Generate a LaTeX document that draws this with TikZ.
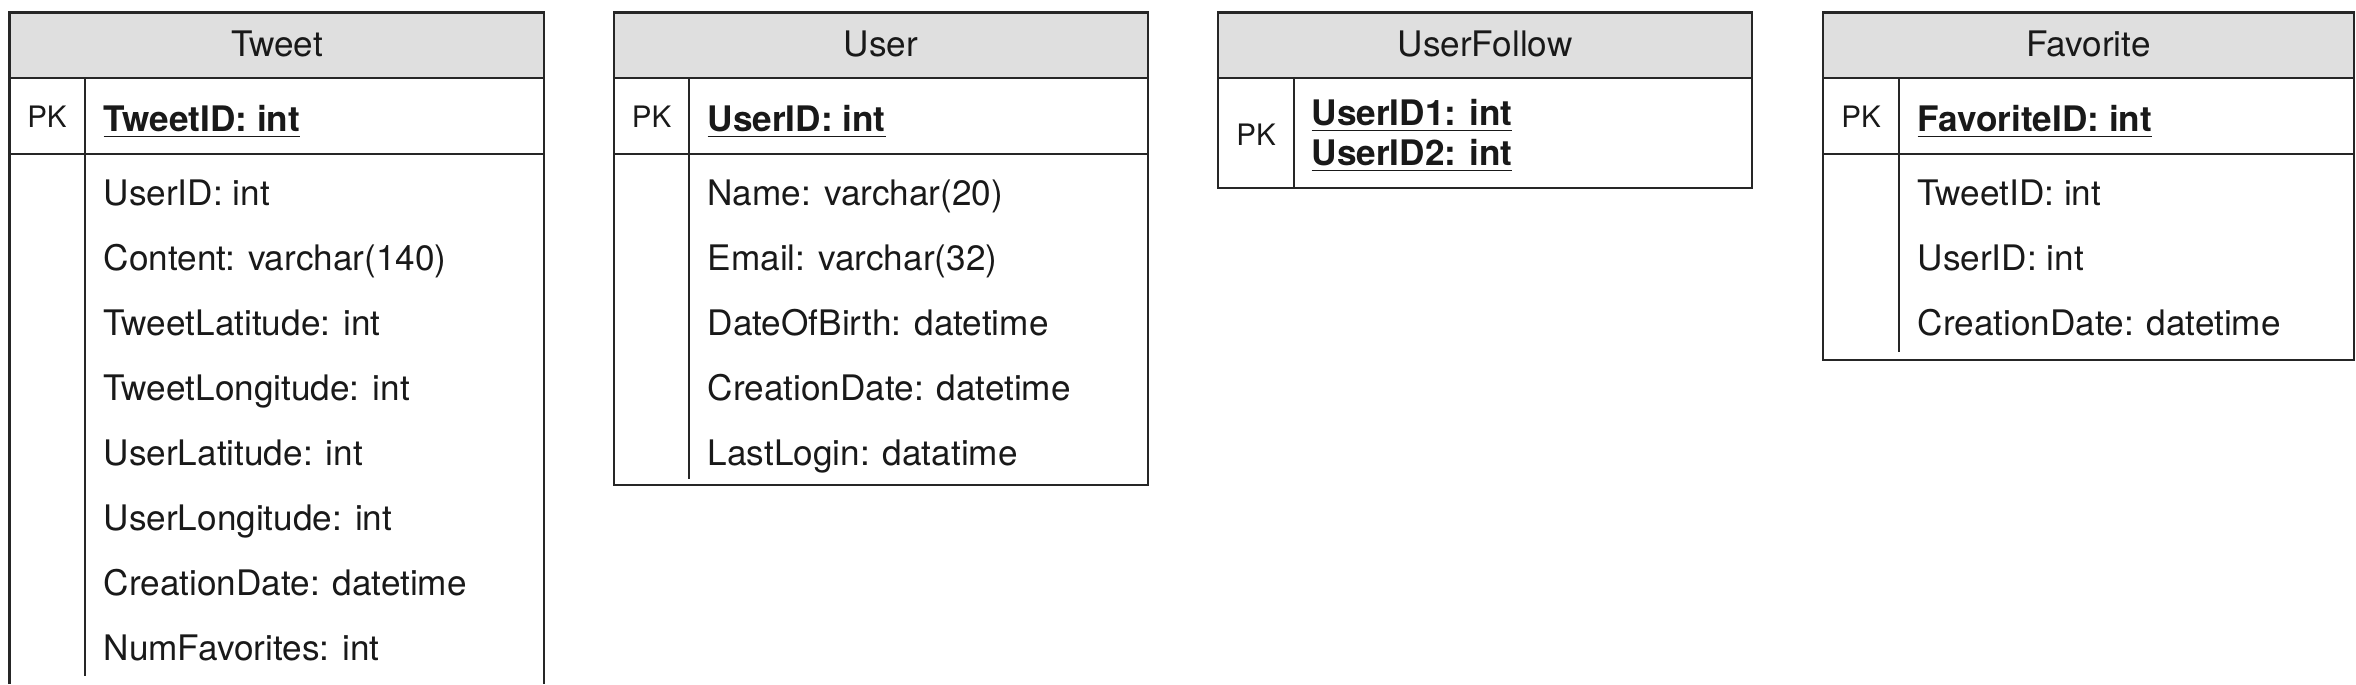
\documentclass[tikz,border=0pt]{standalone}
\usepackage{fontspec}
\setmainfont{TeX Gyre Heros}
\usetikzlibrary{positioning}
\definecolor{headgray}{HTML}{DFDFDF}
\tikzset{
    tline/.style={line width=0.6pt, draw=black!85},
    thead/.style={font=\fontsize{10}{12}\selectfont, text=black!90, anchor=base},
    tpk/.style={font=\fontsize{8.4}{10}\selectfont, text=black!90, anchor=base},
    tkey/.style={font=\fontsize{10}{12}\selectfont\bfseries, text=black!90, anchor=base west, inner sep=0pt},
    tfield/.style={font=\fontsize{10}{12}\selectfont, text=black!90, anchor=base west, inner sep=0pt}
}

\begin{document}
\begin{tikzpicture}[x=0.01cm, y=-0.01cm]
        \useasboundingbox (0,0) rectangle (2356,684);
        % Tweet (runs off the bottom)
        \fill[headgray] (9.5,12.5) rectangle (544,78);
        \draw[tline] (9.5,684) -- (9.5,12.5) -- (544,12.5) -- (544,684);
        \draw[tline] (9.5,78) -- (544,78) (9.5,154) -- (544,154);
        \draw[tline] (85,78) -- (85,676);
        \node[thead] (tweet) at (277,56) {Tweet};
        \node[tpk] (tweetpk) at (47,127) {PK};
        \node[tkey] (tweetid) at (103,131) {\underline{TweetID: int}};
        \foreach \f [count=\i from 0] in {UserID: int, Content: varchar(140), TweetLatitude: int, TweetLongitude: int, UserLatitude: int, UserLongitude: int, CreationDate: datetime, NumFavorites: int}
            \node[tfield] (tweet\i) at (103,205+65*\i) {\f};
        % User
        \fill[headgray] (614,12.5) rectangle (1148,78);
        \draw[tline] (614,12.5) rectangle (1148,485);
        \draw[tline] (614,78) -- (1148,78) (614,154) -- (1148,154);
        \draw[tline] (689,78) -- (689,479);
        \node[thead] (user) at (881,56) {User};
        \node[tpk] (userpk) at (651.5,127) {PK};
        \node[tkey] (userid) at (707,131) {\underline{UserID: int}};
        \foreach \f [count=\i from 0] in {Name: varchar(20), Email: varchar(32), DateOfBirth: datetime, CreationDate: datetime, LastLogin: datatime}
            \node[tfield] (user\i) at (707,205+65*\i) {\f};
        % UserFollow
        \fill[headgray] (1218,12.5) rectangle (1752,78);
        \draw[tline] (1218,12.5) rectangle (1752,188);
        \draw[tline] (1218,78) -- (1752,78);
        \draw[tline] (1294,78) -- (1294,188);
        \node[thead] (follow) at (1485,56) {UserFollow};
        \node[tpk] (followpk) at (1256,145) {PK};
        \node[tkey] (followid1) at (1311,125) {\underline{UserID1: int}};
        \node[tkey] (followid2) at (1311,165) {\underline{UserID2: int}};
        % Favorite
        \fill[headgray] (1823,12.5) rectangle (2354,78);
        \draw[tline] (1823,12.5) rectangle (2354,360);
        \draw[tline] (1823,78) -- (2354,78) (1823,154) -- (2354,154);
        \draw[tline] (1899,78) -- (1899,352);
        \node[thead] (fav) at (2088.5,56) {Favorite};
        \node[tpk] (favpk) at (1861,127) {PK};
        \node[tkey] (favid) at (1917,131) {\underline{FavoriteID: int}};
        \foreach \f [count=\i from 0] in {TweetID: int, UserID: int, CreationDate: datetime}
            \node[tfield] (fav\i) at (1917,205+65*\i) {\f};
    \end{tikzpicture}
\end{document}
